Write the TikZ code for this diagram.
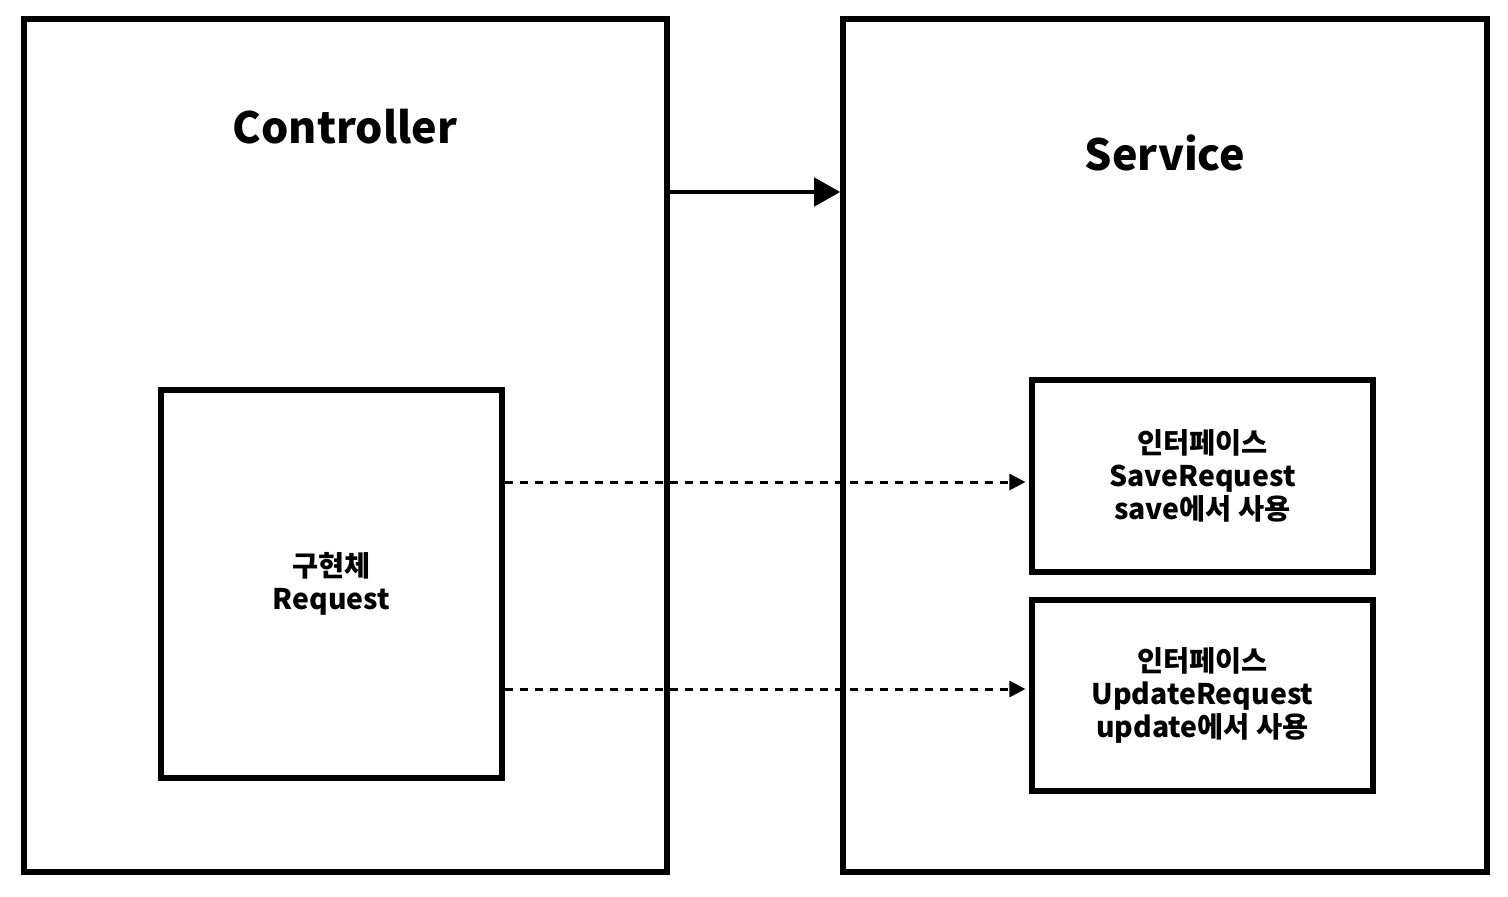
\documentclass[tikz,border=0pt]{standalone}
\usepackage{fontspec}
\setmainfont{Noto Sans CJK KR}
\usetikzlibrary{arrows.meta}
\begin{document}
\begin{tikzpicture}[x=0.5pt,y=-0.5pt,
  bigbox/.style={draw=black,line width=2.8pt,rectangle,inner sep=0pt},
  smallbox/.style={draw=black,line width=2.6pt,rectangle,inner sep=0pt,align=center,
    font=\fontsize{14.2}{16.6}\selectfont\bfseries},
  title/.style={font=\fontsize{21.5}{26}\selectfont\bfseries},
  mainarrow/.style={line width=2.4pt,-{Triangle[length=13pt,width=14pt]}},
  dasharrow/.style={line width=1.5pt,dash pattern=on 4pt off 3.5pt,
    -{Triangle[length=8pt,width=8pt]},shorten >=2pt}]
\useasboundingbox (0,0) rectangle (1508,896);
\node[bigbox,minimum width=321.5pt,minimum height=426.5pt] (ctrl) at (345.5,445.5) {};
\node[bigbox,minimum width=322pt,minimum height=426.5pt] (svc) at (1165,445.5) {};
\node[title] (ctrlt) at (345,127) {Controller};
\node[title] (svct) at (1165,153) {Service};
\node[smallbox,minimum width=170.5pt,minimum height=194pt] (req) at (331.5,584) {구현체\\Request};
\node[smallbox,minimum width=170.5pt,minimum height=96pt] (save) at (1202.5,476) {인터페이스\\SaveRequest\\save에서 사용};
\node[smallbox,minimum width=170.5pt,minimum height=95.5pt] (upd) at (1202.5,695.5) {인터페이스\\UpdateRequest\\update에서 사용};
\coordinate (y1) at (0,192);
\coordinate (y2) at (0,482);
\coordinate (y3) at (0,689);
\draw[mainarrow] (ctrl.east |- y1) -- (svc.west |- y1);
\draw[dasharrow] (req.east |- y2) -- (save.west |- y2);
\draw[dasharrow] (req.east |- y3) -- (upd.west |- y3);
\end{tikzpicture}
\end{document}
